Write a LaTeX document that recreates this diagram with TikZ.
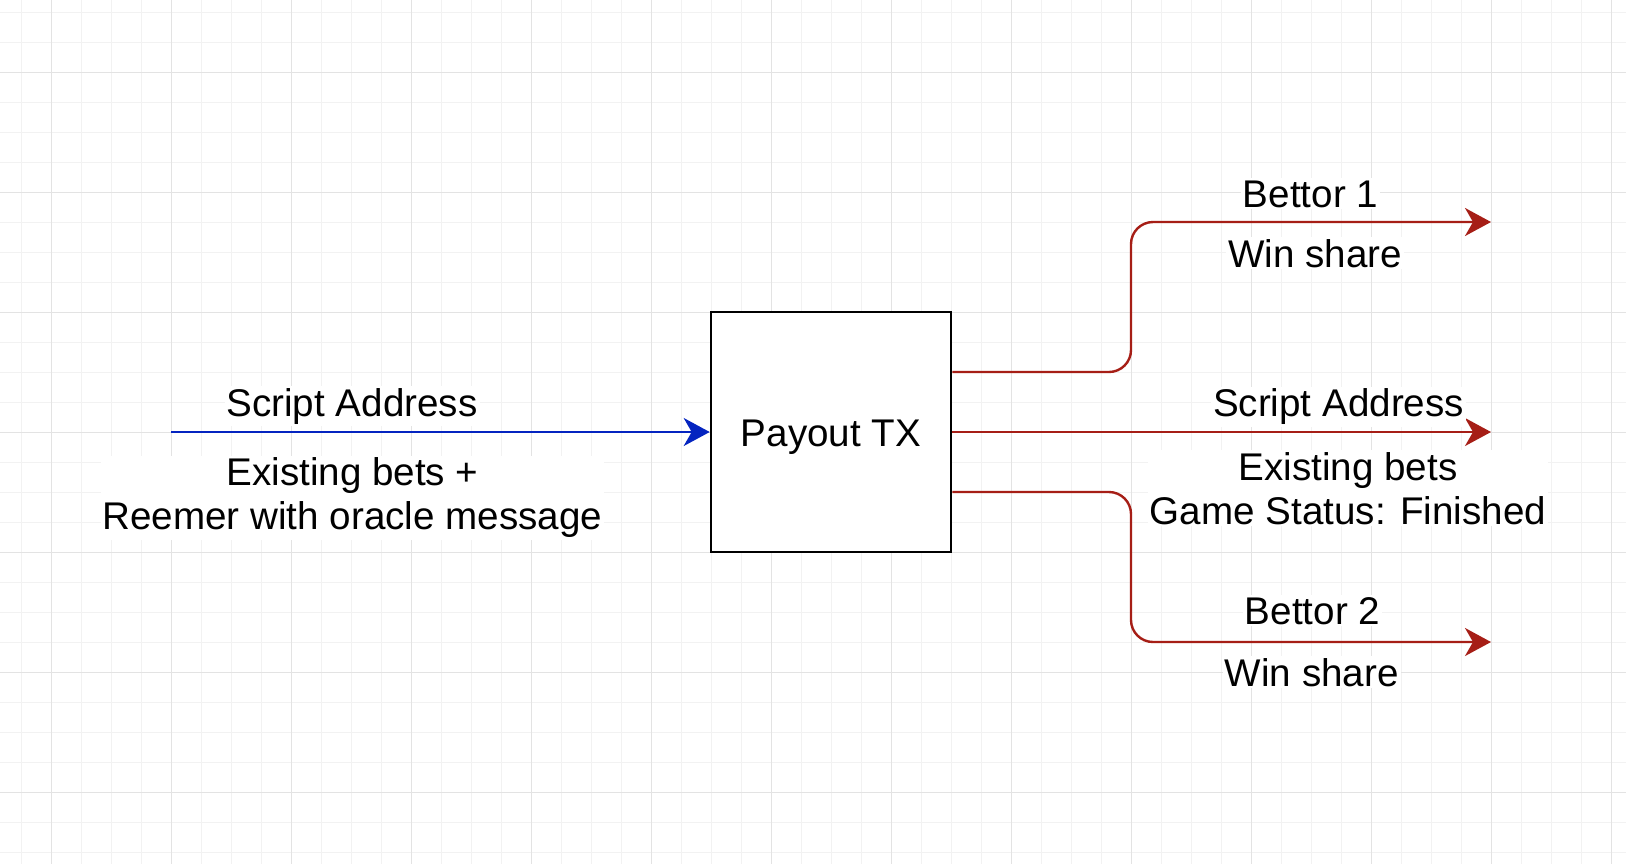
\documentclass[tikz,border=0pt]{standalone}
\usepackage{fontspec}
\setmainfont{Liberation Sans}
\usetikzlibrary{positioning,arrows.meta}

\definecolor{inblue}{RGB}{4,36,192}
\definecolor{outred}{RGB}{166,30,22}

\begin{document}
\begin{tikzpicture}[
        x=0.5pt, y=-0.5pt,
        minorgrid/.style={draw=black!5, line width=0.5pt},
        majorgrid/.style={draw=black!11, line width=0.5pt},
        txbox/.style={rectangle, draw=black, fill=white, line width=1.3pt, minimum width=120pt, minimum height=120pt, inner sep=0pt, text height=14.7pt, text depth=0pt, font={\fontsize{19.3}{22}\selectfont}},
        lbl/.style={fill=white, inner sep=1pt, anchor=base, align=center, font={\fontsize{19.3}{22}\selectfont}},
        inflow/.style={draw=inblue, line width=1.2pt, -{Stealth[length=13pt, width=14pt, inset=4pt]}},
        outflow/.style={draw=outred, line width=1.2pt, rounded corners=11pt, -{Stealth[length=13pt, width=14pt, inset=4pt]}}
    ]
    \useasboundingbox (0,0) rectangle (1626,864);
    \fill[white] (0,0) rectangle (1626,864);

    % background grid
    \foreach \gx in {21,51,...,1626} \draw[minorgrid] (\gx,0) -- (\gx,864);
    \foreach \gy in {12,42,...,864} \draw[minorgrid] (0,\gy) -- (1626,\gy);
    \foreach \gx in {51,171,...,1626} \draw[majorgrid] (\gx,0) -- (\gx,864);
    \foreach \gy in {72,192,...,864} \draw[majorgrid] (0,\gy) -- (1626,\gy);

    \node[txbox] (payout) at (831,432) {Payout TX};

    \coordinate (src)   at (171,432);
    \coordinate (bend1) at (1131,222);
    \coordinate (bend3) at (1131,642);
    \coordinate (out1)  at (1491,222);
    \coordinate (out2)  at (1491,432);
    \coordinate (out3)  at (1491,642);

    \draw[inflow] (src) -- (payout.west);
    \draw[outflow] ([yshift=30pt]payout.east) -| (bend1) -- (out1);
    \draw[outflow] (payout.east) -- (out2);
    \draw[outflow] ([yshift=-30pt]payout.east) -| (bend3) -- (out3);

    % labels
    \node[lbl] (inaddr)   at (352,416)    {Script Address};
    \node[lbl] (inbets)   at (352.5,529.5) {Existing bets +\\Reemer with oracle message};
    \node[lbl] (bettor1)  at (1310.5,207) {Bettor 1};
    \node[lbl] (share1)   at (1315,267)   {Win share};
    \node[lbl] (outaddr)  at (1338.5,416.5) {Script Address};
    \node[lbl] (outbets)  at (1348,524)   {Existing bets\\Game Status: Finished};
    \node[lbl] (bettor2)  at (1312.5,624) {Bettor 2};
    \node[lbl] (share2)   at (1311.7,686) {Win share};
\end{tikzpicture}
\end{document}
